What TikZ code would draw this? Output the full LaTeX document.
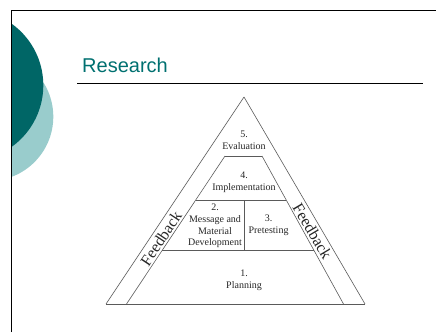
\documentclass[tikz,border=0pt]{standalone}
\usepackage{fontspec}
\setmainfont{Liberation Serif}
\newfontfamily\titlefont{Liberation Sans}
\usetikzlibrary{calc}

\definecolor{darkteal}{RGB}{0,102,102}
\definecolor{lightteal}{RGB}{153,204,204}
\definecolor{titleteal}{RGB}{0,112,112}
\definecolor{pyrgray}{RGB}{90,90,90}

\tikzset{
  pyrline/.style={draw=pyrgray, line width=0.6pt},
  level/.style={align=center, font=\fontsize{10}{11.8}\selectfont, text=black!85, inner sep=0pt},
  fback/.style={font=\fontsize{16}{16}\selectfont, text=black!85, inner sep=0pt}
}

\begin{document}
\begin{tikzpicture}[x=1pt, y=-1pt]

      \useasboundingbox (0, 0) rectangle (436, 332);

      % cercles du fond
      \begin{scope}
        \clip (11, 0) rectangle (436, 332);
        \fill[lightteal] (-10.9, 116.7) circle [radius=64.2pt];
        \fill[darkteal] (-32.4, 85.3) circle [radius=75.7pt];
      \end{scope}

      % cadre
      \draw[line width=1.4pt] (11.5, 332) -- (11.5, 10.6) -- (436, 10.6);

      % titre
      \node (title) at (82, 72) [anchor=base west, inner sep=0pt, text=titleteal,
        font=\titlefont\fontsize{20}{20}\selectfont] {Research};
      \draw[line width=0.9pt] (77, 83.3) -- (423, 83.3);

      % triangle exterieur
      \draw[pyrline] (106, 304) -- (244, 97);
      \draw[pyrline] (244, 97) -- (365, 304);
      \draw[pyrline] (106, 304) -- (365, 304);

      % trapeze interieur
      \draw[pyrline] (126.5, 304) -- (225, 156);
      \draw[pyrline] (225, 156) -- (262, 156);
      \draw[pyrline] (262, 156) -- (343.5, 304);

      % lignes horizontales
      \draw[pyrline] (195.7, 200) -- (286.2, 200);
      \draw[pyrline] (162.2, 250) -- (313.8, 250);

      % ligne verticale
      \draw[pyrline] (244, 200) -- (244, 250);

      % etapes
      \node[level] (eval) at (244, 140) {5.\\Evaluation};
      \node[level] (impl) at (244, 182.5) {4.\\Implementation};
      \node[level] (msg) at (215, 226) {2.\\Message and\\Material\\Development};
      \node[level] (pretest) at (268.5, 225) {3.\\Pretesting};
      \node[level] (plan) at (244, 280.5) {1.\\Planning};

      % retour
      \node[fback, rotate=56.3] (fbl) at (161, 238.5) {Feedback};
      \node[fback, rotate=-59.3] (fbr) at (312.5, 231.5) {Feedback};
    \end{tikzpicture}
\end{document}
